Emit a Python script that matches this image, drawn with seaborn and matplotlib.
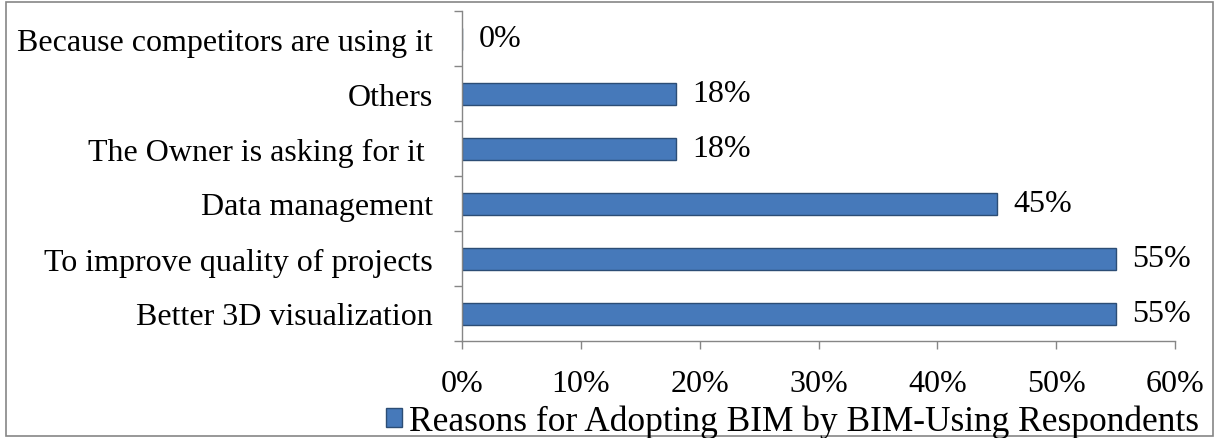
import matplotlib
matplotlib.use("Agg")
import matplotlib.pyplot as plt
import seaborn as sns
import pandas as pd
from matplotlib.patches import Rectangle, Patch
from matplotlib.ticker import FixedLocator, PercentFormatter

categories = [
    "Because competitors are using it",
    "Others",
    "The Owner is asking for it ",
    "Data management",
    "To improve quality of projects",
    "Better 3D visualization",
]
values = [0, 18, 18, 45, 55, 55]
series_name = "Reasons for Adopting BIM by BIM-Using Respondents"
xticks = [0, 10, 20, 30, 40, 50, 60]

df = pd.DataFrame({"category": categories, "value": values})

sns.set_theme(style="white")
plt.rcParams["font.family"] = ["Liberation Serif", "DejaVu Serif"]
FS = 23

fig = plt.figure(figsize=(12.15, 4.39), dpi=100)
ax = fig.add_axes([462 / 1215, 1 - 342 / 439, 713 / 1215, 330 / 439])

bar_color = "#4679BA"
sns.barplot(data=df, y="category", x="value", order=categories, color=bar_color,
            width=0.4, edgecolor="#2C4D75", linewidth=1.0, ax=ax, saturation=1)

ax.set_xlim(0, 60)
ax.set_ylim(5.5, -0.5)
ax.set_xlabel("")
ax.set_ylabel("")
ax.xaxis.set_major_locator(FixedLocator(xticks))
ax.xaxis.set_major_formatter(PercentFormatter(decimals=0))
ax.tick_params(axis="x", which="major", length=6, width=1, color="#868686",
               labelsize=FS, labelcolor="black", pad=14, bottom=True, direction="out")
ax.tick_params(axis="y", which="major", length=0, labelsize=FS, labelcolor="black", pad=21)
ax.yaxis.set_minor_locator(FixedLocator([i - 0.5 for i in range(len(categories) + 1)]))
ax.tick_params(axis="y", which="minor", length=6, width=1, color="#868686", left=True, direction="out")

for s in ["top", "right"]:
    ax.spines[s].set_visible(False)
for s in ["left", "bottom"]:
    ax.spines[s].set_color("#868686")
    ax.spines[s].set_linewidth(1)

for i, v in enumerate(values):
    ax.annotate(f"{v}%", xy=(v, i), xytext=(12, 0), textcoords="offset points",
                va="center", ha="left", fontsize=FS, color="black")

handle = Patch(facecolor=bar_color, edgecolor="#2C4D75")
leg = fig.legend([handle], [series_name], loc="center", bbox_to_anchor=(0.652, 0.038),
                 frameon=False, fontsize=25.5, handlelength=0.45, handleheight=0.45,
                 handletextpad=0.2, borderpad=0, borderaxespad=0)
for t in leg.get_texts():
    t.set_color("black")

fig.patches.append(Rectangle((0.005, 0.004), 0.993, 0.99, transform=fig.transFigure,
                             fill=False, edgecolor="#868686", linewidth=1.2))

fig.savefig("out.png", dpi=100)
